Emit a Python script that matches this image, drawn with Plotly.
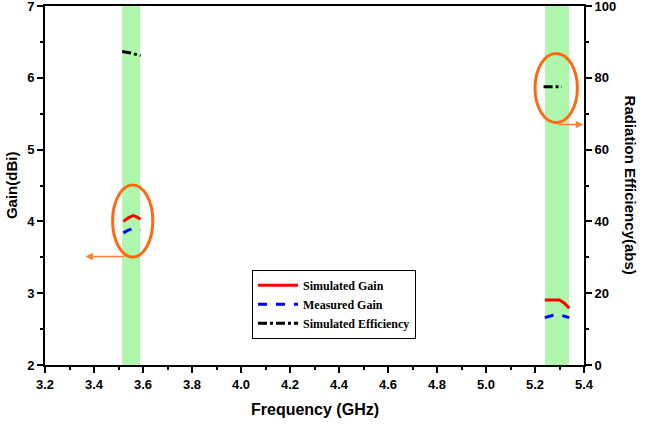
import plotly.graph_objects as go

# Band 1 (~3.5 GHz)
freq_sim_low = [3.52, 3.54, 3.56, 3.57, 3.59]
gain_sim_low = [4.00, 4.05, 4.08, 4.07, 4.03]
freq_meas_low = [3.52, 3.54, 3.56, 3.59]
gain_meas_low = [3.84, 3.88, 3.90, 3.88]
freq_eff_low = [3.515, 3.55, 3.59]
eff_low = [87.3, 86.9, 86.2]

# Band 2 (~5.3 GHz)
freq_sim_high = [5.24, 5.30, 5.32, 5.34]
gain_sim_high = [2.905, 2.905, 2.86, 2.79]
freq_meas_high = [5.24, 5.27, 5.30, 5.34]
gain_meas_high = [2.66, 2.69, 2.70, 2.66]
freq_eff_high = [5.235, 5.31]
eff_high = [77.5, 77.5]

bands = [(3.515, 3.588), (5.241, 5.339)]

fig = go.Figure()
fig.add_trace(go.Scatter(x=freq_sim_low + [None] + freq_sim_high,
                         y=gain_sim_low + [None] + gain_sim_high,
                         mode="lines", name="Simulated Gain",
                         line=dict(color="#ff0000", width=3)))
fig.add_trace(go.Scatter(x=freq_meas_low + [None] + freq_meas_high,
                         y=gain_meas_low + [None] + gain_meas_high,
                         mode="lines", name="Measured Gain",
                         line=dict(color="#0000ff", width=3, dash="dash")))
fig.add_trace(go.Scatter(x=freq_eff_low + [None] + freq_eff_high,
                         y=eff_low + [None] + eff_high,
                         mode="lines", name="Simulated Efficiency", yaxis="y2",
                         line=dict(color="#000000", width=3, dash="dashdot")))

shapes = []
for b0, b1 in bands:
    shapes.append(dict(type="rect", xref="x", yref="paper", x0=b0, x1=b1, y0=0, y1=1,
                       fillcolor="#aef7ac", line=dict(width=0), layer="below"))
shapes.append(dict(type="circle", xref="x", yref="y", x0=3.476, x1=3.64, y0=3.504, y1=4.507,
                   line=dict(color="#ff6a10", width=3)))
shapes.append(dict(type="circle", xref="x", yref="y2", x0=5.20, x1=5.373, y0=67.5, y1=86.8,
                   line=dict(color="#ff6a10", width=3)))

annotations = [
    dict(x=3.365, y=3.51, xref="x", yref="y", ax=3.53, ay=3.51, axref="x", ayref="y",
         showarrow=True, arrowhead=2, arrowsize=1, arrowwidth=1.5, arrowcolor="#ff8030", text=""),
    dict(x=5.397, y=67.0, xref="x", yref="y2", ax=5.29, ay=67.0, axref="x", ayref="y2",
         showarrow=True, arrowhead=2, arrowsize=1, arrowwidth=1.5, arrowcolor="#ff8030", text=""),
    dict(text="Gain(dBi)", xref="paper", yref="paper", x=-0.062, y=0.5, textangle=-90,
         showarrow=False, xanchor="center", yanchor="middle",
         font=dict(family="Liberation Sans, Arial", size=15, color="black", weight="bold")),
    dict(text="Radiation Efficiency(abs)", xref="paper", yref="paper", x=1.087, y=0.5, textangle=90,
         showarrow=False, xanchor="center", yanchor="middle",
         font=dict(family="Liberation Sans, Arial", size=15, color="black", weight="bold")),
    dict(text="Frequency (GHz)", xref="paper", yref="paper", x=0.5, y=-0.125,
         showarrow=False, xanchor="center", yanchor="middle",
         font=dict(family="Liberation Sans, Arial", size=16, color="black", weight="bold")),
]

axis_font = dict(family="Liberation Sans, Arial", size=13, color="black", weight="bold")

fig.update_layout(
    width=645, height=425,
    margin=dict(l=45, r=61, t=6, b=60, autoexpand=False),
    plot_bgcolor="white", paper_bgcolor="white",
    shapes=shapes, annotations=annotations,
    showlegend=True,
    legend=dict(x=0.384, y=0.265, xanchor="left", yanchor="top",
                bordercolor="black", borderwidth=1, bgcolor="white",
                font=dict(family="Liberation Serif, Times New Roman", size=12, color="black", weight="bold"),
                tracegroupgap=0, itemwidth=40),
    xaxis=dict(range=[3.2, 5.4], dtick=0.2, tick0=3.2, tickformat=".1f", automargin=False,
               showgrid=False, zeroline=False, showline=True, linecolor="black", linewidth=2,
               mirror=True, ticks="outside", ticklen=6, tickwidth=2, tickcolor="black",
               minor=dict(dtick=0.1, ticks="outside", ticklen=3, tickwidth=2, tickcolor="black"),
               tickfont=axis_font, ticklabeloverflow="allow"),
    yaxis=dict(range=[2, 7], dtick=1, showgrid=False, zeroline=False, automargin=False,
               showline=True, linecolor="black", linewidth=2,
               ticks="outside", ticklen=6, tickwidth=2, tickcolor="black",
               minor=dict(dtick=0.5, ticks="outside", ticklen=3, tickwidth=2, tickcolor="black"),
               tickfont=axis_font, ticklabeloverflow="allow"),
    yaxis2=dict(range=[0, 100], dtick=20, overlaying="y", side="right", automargin=False,
                showgrid=False, zeroline=False, showline=True, linecolor="black", linewidth=2,
                ticks="outside", ticklen=6, tickwidth=2, tickcolor="black",
                minor=dict(dtick=10, ticks="outside", ticklen=3, tickwidth=2, tickcolor="black"),
                tickfont=axis_font, ticklabeloverflow="allow"),
)

fig.write_html("out.html", config={"displayModeBar": False},
               post_script="document.body.style.margin='0px';")
